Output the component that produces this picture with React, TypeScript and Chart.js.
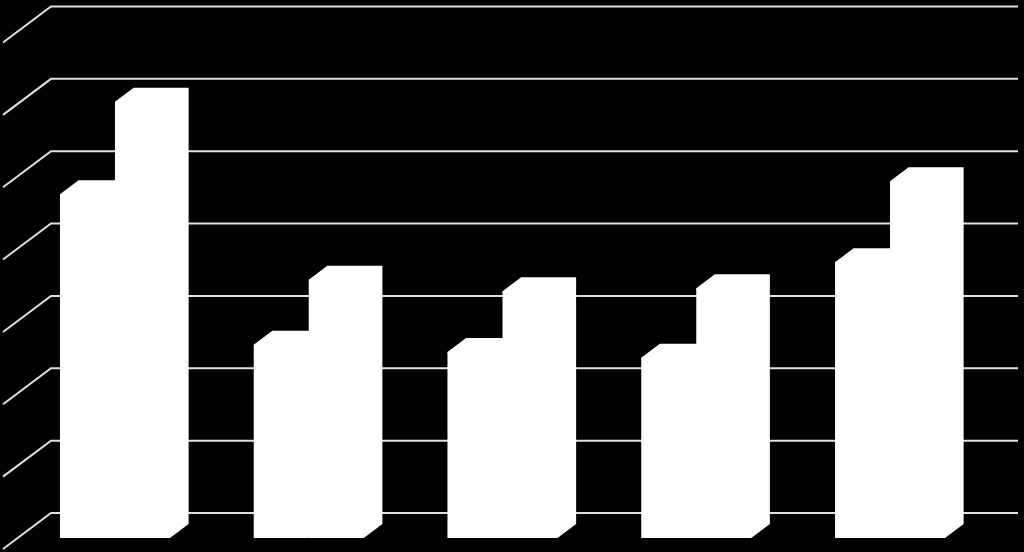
import React, { useEffect, useRef } from 'react';
import { Chart, registerables } from 'chart.js';

Chart.register(...registerables);

const categories = ['A', 'B', 'C', 'D', 'E'];
const seriesOne = [4.75, 2.67, 2.57, 2.49, 3.81];
const seriesTwo = [6.03, 3.57, 3.41, 3.45, 4.93];
const gridValues = [0, 1, 2, 3, 4, 5, 6, 7];

// fake 3D look: the walls sit behind the bars, the bars get a top and a side face
const wallShiftY = -25;
const wallLeft = 51;
const wallRight = 1018;
const wallEdgeX = 3;
const wallEdgeY = 36;
const barDepthX = 18.6;
const barDepthY = 14;
const gridColor = '#e0e0e0';

const wallPlugin = {
  id: 'wall',
  beforeDatasetsDraw(chart: Chart) {
    const { ctx } = chart;
    const y = chart.scales.y;
    ctx.save();
    ctx.strokeStyle = gridColor;
    ctx.lineWidth = 2;
    gridValues.forEach(v => {
      const py = y.getPixelForValue(v) + wallShiftY;
      ctx.beginPath();
      ctx.moveTo(wallEdgeX, py + wallEdgeY);
      ctx.lineTo(wallLeft, py);
      ctx.lineTo(wallRight, py);
      ctx.stroke();
    });
    ctx.restore();
  }
};

const depthPlugin = {
  id: 'depth',
  afterDatasetsDraw(chart: Chart) {
    const { ctx } = chart;
    ctx.save();
    ctx.fillStyle = '#ffffff';
    chart.data.datasets.forEach((_, i) => {
      chart.getDatasetMeta(i).data.forEach((bar: any) => {
        const left = bar.x - bar.width / 2;
        const right = bar.x + bar.width / 2;
        ctx.beginPath();
        ctx.moveTo(left, bar.y);
        ctx.lineTo(left + barDepthX, bar.y - barDepthY);
        ctx.lineTo(right + barDepthX, bar.y - barDepthY);
        ctx.lineTo(right + barDepthX, bar.base - barDepthY);
        ctx.lineTo(right, bar.base);
        ctx.closePath();
        ctx.fill();
      });
    });
    ctx.restore();
  }
};

const App: React.FC = () => {
  const chartRef = useRef<HTMLCanvasElement | null>(null);

  useEffect(() => {
    if (!chartRef.current) return;
    document.body.style.margin = '0';
    document.body.style.background = '#000';

    const chart = new Chart(chartRef.current, {
      type: 'bar',
      data: {
        labels: categories,
        datasets: [
          { label: 'Series 1', data: seriesOne, backgroundColor: '#ffffff' },
          { label: 'Series 2', data: seriesTwo, backgroundColor: '#ffffff' }
        ]
      },
      options: {
        responsive: false,
        animation: false,
        layout: { padding: { left: 18.1, right: 37.1, top: 31.5, bottom: 14 } },
        datasets: { bar: { barPercentage: 1, categoryPercentage: 0.568 } },
        plugins: { legend: { display: false }, tooltip: { enabled: false } },
        scales: {
          x: { display: false, grid: { display: false } },
          y: { display: false, min: 0, max: 7, grid: { display: false } }
        }
      },
      plugins: [wallPlugin, depthPlugin]
    });

    return () => chart.destroy();
  }, []);

  return <canvas ref={chartRef} width={1024} height={552} style={{ display: 'block', background: '#000' }} />;
};

export default App;
